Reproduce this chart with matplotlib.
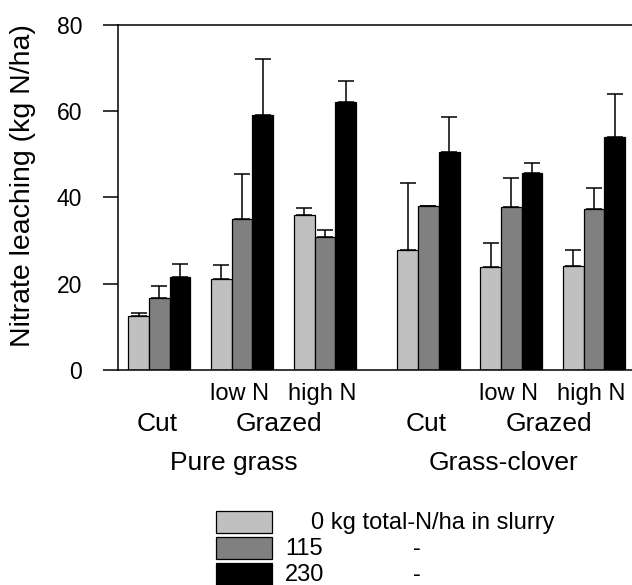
import matplotlib
matplotlib.use("Agg")
import matplotlib.pyplot as plt
import matplotlib.transforms as mtransforms
from matplotlib.patches import Rectangle
import numpy as np

plt.rcParams['font.family'] = ['Liberation Sans', 'DejaVu Sans']

# ---- data ----
systems = ["Pure grass", "Grass-clover"]
managements = ["Cut", "Grazed low N", "Grazed high N"]
slurry_labels = ["0 kg total-N/ha in slurry", "115", "230"]
n0 = [12.4, 21.1, 35.9, 27.8, 23.8, 24.0]
n115 = [16.7, 34.9, 30.8, 38.0, 37.7, 37.2]
n230 = [21.6, 59.1, 62.1, 50.6, 45.6, 53.9]
err0 = [0.8, 3.2, 1.7, 15.5, 5.7, 3.7]
err115 = [2.7, 10.5, 1.6, 0.1, 6.7, 5.0]
err230 = [2.9, 13.1, 4.9, 8.1, 2.4, 10.1]
yticks = [0, 20, 40, 60, 80]

series = [n0, n115, n230]
errs = [err0, err115, err230]
colors = ["#c0c0c0", "#808080", "#000000"]

W, H = 632, 585
fig = plt.figure(figsize=(W / 100, H / 100), dpi=100)
ax_left, ax_right = 117.7, 632.0
ax_top, ax_bot = 25.0, 369.7
ax = fig.add_axes([ax_left / W, 1 - ax_bot / H, (ax_right - ax_left) / W, (ax_bot - ax_top) / H])

group_starts = np.array([0, 4, 8, 13, 17, 21], dtype=float)
for j, (vals, ev, col) in enumerate(zip(series, errs, colors)):
    xs = group_starts + 0.5 + j
    ax.errorbar(xs, vals, yerr=[np.zeros(len(vals)), ev], fmt='none',
                ecolor='black', elinewidth=1.1, capsize=5.6, capthick=1.1, zorder=1)
    ax.bar(xs, vals, width=1.0, color=col, edgecolor='black', linewidth=0.9, zorder=2)

ax.set_xlim(-0.51, 24.33)
ax.set_ylim(0, 80)
ax.set_yticks(yticks)
ax.set_xticks([])
ax.spines['right'].set_visible(False)
for s in ['left', 'bottom', 'top']:
    ax.spines[s].set_linewidth(1.1)
ax.tick_params(axis='y', direction='out', length=10.5, width=1.1, pad=15, labelsize=16.5)

# ylabel
fig.text(23 / W, 1 - 186 / H, "Nitrate leaching (kg N/ha)", rotation=90,
         ha='center', va='center', fontsize=20.5)

trans = mtransforms.blended_transform_factory(ax.transData, fig.transFigure)

def fy(px):
    return 1 - px / H

centers = group_starts + 1.5
for k in range(2):
    c_cut, c_low, c_high = centers[3 * k], centers[3 * k + 1], centers[3 * k + 2]
    ax.text(c_low - 0.15, fy(400), "low N", transform=trans, ha='center', va='baseline', fontsize=17)
    ax.text(c_high - 0.15, fy(400), "high N", transform=trans, ha='center', va='baseline', fontsize=17)
    ax.text(c_cut - 0.1, fy(431), managements[0], transform=trans, ha='center', va='baseline', fontsize=19)
    ax.text((c_low + c_high) / 2 - 0.2, fy(431), "Grazed", transform=trans, ha='center', va='baseline', fontsize=19)
    mid = (centers[3 * k] + centers[3 * k + 2]) / 2
    ax.text(mid - 0.4, fy(470), systems[k], transform=trans, ha='center', va='baseline', fontsize=19)

# legend
patch_x0, patch_x1 = 216, 271.7
rows_top = [511, 537, 563]
ph = 22
for i, (lab, col) in enumerate(zip(slurry_labels, colors)):
    r = Rectangle((patch_x0 / W, 1 - (rows_top[i] + ph) / H), (patch_x1 - patch_x0) / W, ph / H,
                  transform=fig.transFigure, facecolor=col, edgecolor='black', linewidth=0.9)
    fig.patches.append(r)
    cy = fy(rows_top[i] + ph / 2 + 1)
    if i == 0:
        fig.text(311 / W, cy, lab, ha='left', va='center', fontsize=17)
    else:
        fig.text(285 / W, cy, lab, ha='left', va='center', fontsize=17)
        fig.text(417 / W, cy, "-", ha='center', va='center', fontsize=17)

fig.savefig("out.png", dpi=100)
